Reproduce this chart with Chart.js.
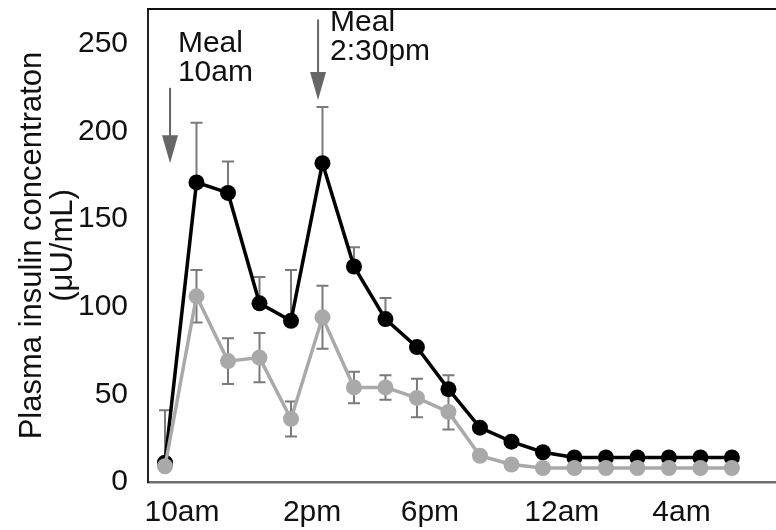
<!DOCTYPE html>
<html>
<head>
<meta charset="utf-8">
<script src="https://cdn.jsdelivr.net/npm/chart.js@4.4.1/dist/chart.umd.min.js"></script>
<style>
html,body{margin:0;padding:0;background:#fff;}
#wrap{width:776px;height:530px;position:relative;}
</style>
</head>
<body>
<div id="wrap"><canvas id="chart"></canvas></div>
<script>
// sample index (one point per hour-ish sample, 19 samples)
var samples=[0,1,2,3,4,5,6,7,8,9,10,11,12,13,14,15,16,17,18];
var blackVals=[11,171,165,102,92,182,123,93,77,53,31,23,17,14,14,14,14,14,14];
var blackErr =[30,34,18,15,29,32,11,12,0,8,0,0,0,0,0,0,0,0,0];
var grayVals =[9,106,69,71,36,94,54,54,48,40,15,10,8,8,8,8,8,8,8];
var grayErr  =[0,15,13,14,10,18,9,7,11,10,0,0,0,0,0,0,0,0,0];
var yTicks=[0,50,100,150,200,250];
var xTickAt=[0.54,4.67,8.41,12.6,16.4];
var xTickLabels=['10am','2pm','6pm','12am','4am'];
var meals=[
    {x:0.16,from:225,to:182,text:['Meal','10am'],tx:0.41,ty:250},
    {x:4.86,from:264,to:218,text:['Meal','2:30pm'],tx:5.24,ty:262}
];

var FONT="'Liberation Sans', Arial, sans-serif";
var BLACK='#000000', GRAY='#a9a9a9', ERR='#7a7a7a', TXT='#111111';

/* error bars, drawn under the points */
var errorBars={
    id:'errorBars',
    beforeDatasetsDraw:function(chart){
        var ctx=chart.ctx, ys=chart.scales.y;
        chart.data.datasets.forEach(function(ds,i){
            var meta=chart.getDatasetMeta(i);
            ctx.save();
            ctx.strokeStyle=ERR;ctx.lineWidth=2;
            ds.err.forEach(function(e,j){
                if(!e)return;
                var pt=meta.data[j], v=ds.data[j].y;
                var top=ys.getPixelForValue(v+e);
                var bot=ds.bothSides?ys.getPixelForValue(v-e):pt.y;
                ctx.beginPath();
                ctx.moveTo(pt.x,top);ctx.lineTo(pt.x,bot);
                ctx.moveTo(pt.x-6,top);ctx.lineTo(pt.x+6,top);
                if(ds.bothSides){ctx.moveTo(pt.x-6,bot);ctx.lineTo(pt.x+6,bot);}
                ctx.stroke();
            });
            ctx.restore();
        });
    }
};

/* top frame line + meal arrows and labels */
var extras={
    id:'extras',
    afterDraw:function(chart){
        var ctx=chart.ctx, a=chart.chartArea, xs=chart.scales.x, ys=chart.scales.y;
        ctx.save();
        ctx.strokeStyle='#111';ctx.lineWidth=2;
        ctx.beginPath();ctx.moveTo(a.left-1,a.top);ctx.lineTo(a.right,a.top);ctx.stroke();
        meals.forEach(function(m){
            var x=xs.getPixelForValue(m.x), y0=ys.getPixelForValue(m.from), y1=ys.getPixelForValue(m.to);
            ctx.strokeStyle='#666';ctx.fillStyle='#666';ctx.lineWidth=2;
            ctx.beginPath();ctx.moveTo(x,y0);ctx.lineTo(x,y1-26);ctx.stroke();
            ctx.beginPath();ctx.moveTo(x-8,y1-28);ctx.lineTo(x+8,y1-28);ctx.lineTo(x,y1);ctx.closePath();ctx.fill();
            ctx.fillStyle=TXT;ctx.font='30px '+FONT;ctx.textAlign='left';ctx.textBaseline='middle';
            var tx=xs.getPixelForValue(m.tx), ty=ys.getPixelForValue(m.ty);
            m.text.forEach(function(t,k){ctx.fillText(t,tx,ty+k*29);});
        });
        ctx.restore();
    }
};

function pts(vals){return vals.map(function(v,i){return {x:samples[i],y:v};});}

new Chart(document.getElementById('chart'),{
    type:'line',
    data:{
        datasets:[
            {label:'gray',data:pts(grayVals),err:grayErr,bothSides:true,borderColor:GRAY,backgroundColor:GRAY,borderWidth:3.5,pointRadius:8,pointBackgroundColor:GRAY,pointBorderColor:GRAY,pointBorderWidth:0,tension:0},
            {label:'black',data:pts(blackVals),err:blackErr,bothSides:false,borderColor:BLACK,backgroundColor:BLACK,borderWidth:3.5,pointRadius:8,pointBackgroundColor:BLACK,pointBorderColor:BLACK,pointBorderWidth:0,tension:0}
        ]
    },
    options:{
        responsive:true,maintainAspectRatio:false,animation:false,
        layout:{autoPadding:false,padding:{top:9,right:0,left:0,bottom:0}},
        plugins:{legend:{display:false},tooltip:{enabled:false}},
        scales:{
            x:{
                type:'linear',min:-0.54,max:19.4,
                grid:{display:false,drawTicks:false},
                border:{display:true,color:'#6e6e6e',width:2.5},
                afterBuildTicks:function(s){s.ticks=xTickAt.map(function(v){return {value:v};});},
                afterFit:function(s){s.height=48;s.paddingLeft=0;s.paddingRight=0;},
                ticks:{color:TXT,font:{family:FONT,size:30},padding:13,maxRotation:0,autoSkip:false,
                    callback:function(v,i){return xTickLabels[i];}}
            },
            y:{
                min:0,max:270,
                grid:{display:false,drawTicks:false},
                border:{display:true,color:'#222',width:2},
                afterBuildTicks:function(s){s.ticks=yTicks.map(function(v){return {value:v};});},
                afterFit:function(s){s.width=148;s.paddingTop=0;s.paddingBottom=0;},
                ticks:{color:TXT,font:{family:FONT,size:30},padding:20},
                title:{display:true,text:['Plasma insulin concentraton','(\u03bcU/mL)'],color:TXT,
                    font:{family:FONT,size:31,lineHeight:1.0},padding:{top:17,bottom:0}}
            }
        }
    },
    plugins:[errorBars,extras]
});
</script>
</body>
</html>
